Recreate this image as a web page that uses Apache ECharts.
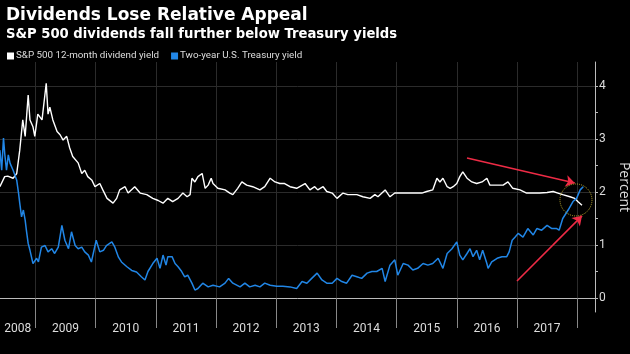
<!DOCTYPE html>
<html>
<head>
<meta charset="utf-8">
<script src="https://cdn.jsdelivr.net/npm/echarts@6/dist/echarts.min.js"></script>
<style>
  html, body { margin: 0; padding: 0; background: #000; }
  #chart { width: 630px; height: 354px; }
</style>
</head>
<body>
<div id="chart"></div>
<script>
// S&P 500 12-month dividend yield (decimal year, percent)
const divYears = [2008.41, 2008.49, 2008.54, 2008.63, 2008.69, 2008.74, 2008.79, 2008.83, 2008.88, 2008.91,
  2008.96, 2008.99, 2009.04, 2009.11, 2009.18, 2009.21, 2009.24, 2009.29, 2009.36, 2009.41,
  2009.46, 2009.52, 2009.57, 2009.62, 2009.71, 2009.77, 2009.82, 2009.87, 2009.94, 2009.99,
  2010.07, 2010.12, 2010.19, 2010.29, 2010.35, 2010.40, 2010.49, 2010.54, 2010.65, 2010.74,
  2010.85, 2010.95, 2011.04, 2011.12, 2011.20, 2011.28, 2011.37, 2011.45, 2011.52, 2011.57,
  2011.60, 2011.65, 2011.70, 2011.77, 2011.82, 2011.87, 2011.92, 2011.95, 2012.03, 2012.15,
  2012.23, 2012.28, 2012.36, 2012.43, 2012.51, 2012.61, 2012.73, 2012.81, 2012.90, 2012.98,
  2013.06, 2013.14, 2013.23, 2013.34, 2013.48, 2013.56, 2013.64, 2013.69, 2013.78, 2013.84,
  2013.93, 2014.01, 2014.11, 2014.19, 2014.34, 2014.44, 2014.56, 2014.64, 2014.69, 2014.81,
  2014.89, 2014.97, 2015.09, 2015.19, 2015.30, 2015.42, 2015.50, 2015.60, 2015.67, 2015.72,
  2015.77, 2015.84, 2015.89, 2015.94, 2016.00, 2016.05, 2016.10, 2016.17, 2016.25, 2016.33,
  2016.42, 2016.50, 2016.55, 2016.67, 2016.77, 2016.85, 2016.93, 2017.05, 2017.16, 2017.26,
  2017.38, 2017.50, 2017.60, 2017.68, 2017.76, 2017.88, 2017.96, 2018.01, 2018.08];
const divYield = [2.10, 2.29, 2.30, 2.26, 2.35, 2.79, 3.36, 3.05, 3.83, 3.36,
  3.23, 3.05, 3.47, 3.36, 4.05, 3.47, 3.60, 3.36, 3.14, 3.08,
  2.98, 3.05, 2.83, 2.67, 2.55, 2.35, 2.41, 2.29, 2.22, 2.10,
  2.16, 2.04, 1.88, 1.79, 1.88, 2.04, 2.10, 1.98, 2.10, 1.98,
  1.95, 1.88, 1.84, 1.79, 1.88, 1.82, 1.88, 1.98, 1.91, 1.95,
  2.26, 2.19, 2.29, 2.35, 2.07, 2.13, 2.26, 2.16, 2.07, 2.04,
  1.98, 1.95, 2.07, 2.19, 2.13, 2.10, 2.04, 2.10, 2.26, 2.19,
  2.16, 2.16, 2.10, 2.07, 2.16, 2.04, 2.10, 2.04, 2.10, 2.01,
  1.98, 1.88, 1.98, 1.95, 1.95, 1.91, 1.88, 1.95, 1.91, 2.04,
  1.91, 1.98, 1.98, 1.98, 1.98, 1.98, 2.01, 2.04, 2.26, 2.19,
  2.26, 2.10, 2.07, 2.10, 2.16, 2.29, 2.38, 2.26, 2.19, 2.16,
  2.19, 2.26, 2.13, 2.13, 2.13, 2.19, 2.07, 2.04, 1.98, 1.98,
  1.98, 1.99, 2.01, 1.98, 1.95, 1.91, 1.88, 1.82, 1.75];

// Two-year U.S. Treasury yield (decimal year, percent)
const tsyYears = [2008.41, 2008.44, 2008.47, 2008.49, 2008.52, 2008.55, 2008.58, 2008.63, 2008.69, 2008.72,
  2008.74, 2008.77, 2008.80, 2008.83, 2008.85, 2008.88, 2008.91, 2008.96, 2009.02, 2009.05,
  2009.10, 2009.16, 2009.21, 2009.27, 2009.32, 2009.38, 2009.44, 2009.49, 2009.55, 2009.60,
  2009.66, 2009.71, 2009.77, 2009.82, 2009.88, 2009.93, 2010.01, 2010.07, 2010.13, 2010.18,
  2010.27, 2010.32, 2010.38, 2010.43, 2010.52, 2010.60, 2010.68, 2010.76, 2010.82, 2010.87,
  2010.95, 2011.02, 2011.07, 2011.12, 2011.17, 2011.20, 2011.27, 2011.32, 2011.37, 2011.43,
  2011.48, 2011.53, 2011.60, 2011.65, 2011.70, 2011.78, 2011.87, 2011.95, 2012.06, 2012.15,
  2012.21, 2012.28, 2012.40, 2012.48, 2012.56, 2012.65, 2012.73, 2012.81, 2012.90, 2013.01,
  2013.11, 2013.23, 2013.34, 2013.43, 2013.51, 2013.59, 2013.68, 2013.76, 2013.84, 2013.93,
  2014.01, 2014.09, 2014.17, 2014.26, 2014.34, 2014.42, 2014.51, 2014.59, 2014.67, 2014.76,
  2014.81, 2014.89, 2014.97, 2015.02, 2015.11, 2015.19, 2015.27, 2015.35, 2015.44, 2015.52,
  2015.60, 2015.69, 2015.77, 2015.84, 2015.92, 2016.00, 2016.05, 2016.10, 2016.17, 2016.22,
  2016.27, 2016.33, 2016.38, 2016.43, 2016.50, 2016.52, 2016.58, 2016.67, 2016.75, 2016.83,
  2016.87, 2016.92, 2016.97, 2017.02, 2017.10, 2017.18, 2017.27, 2017.33, 2017.41, 2017.50,
  2017.58, 2017.66, 2017.70, 2017.76, 2017.85, 2017.93, 2017.99, 2018.05, 2018.10];
const tsyYield = [2.79, 2.41, 3.02, 2.73, 2.41, 2.70, 2.54, 2.41, 2.22, 1.98,
  1.79, 1.53, 1.66, 1.47, 1.28, 1.03, 0.90, 0.65, 0.75, 0.68,
  0.96, 0.99, 0.87, 0.93, 0.84, 0.96, 1.37, 1.09, 0.93, 1.25,
  0.99, 0.93, 0.96, 0.87, 0.81, 0.68, 1.09, 0.87, 0.90, 0.99,
  1.06, 0.96, 0.77, 0.68, 0.59, 0.52, 0.49, 0.40, 0.34, 0.50,
  0.65, 0.75, 0.56, 0.81, 0.62, 0.78, 0.78, 0.65, 0.59, 0.50,
  0.40, 0.43, 0.28, 0.15, 0.18, 0.28, 0.21, 0.24, 0.21, 0.28,
  0.37, 0.28, 0.21, 0.28, 0.21, 0.24, 0.21, 0.28, 0.24, 0.22,
  0.22, 0.21, 0.18, 0.31, 0.28, 0.37, 0.47, 0.34, 0.28, 0.28,
  0.37, 0.31, 0.28, 0.43, 0.40, 0.37, 0.47, 0.50, 0.50, 0.56,
  0.31, 0.62, 0.72, 0.43, 0.65, 0.62, 0.53, 0.56, 0.65, 0.62,
  0.65, 0.75, 0.56, 0.84, 0.93, 1.06, 0.81, 0.72, 0.84, 0.93,
  0.78, 0.90, 0.72, 0.90, 0.65, 0.56, 0.68, 0.75, 0.78, 0.78,
  0.87, 1.09, 1.15, 1.22, 1.15, 1.31, 1.19, 1.31, 1.28, 1.37,
  1.31, 1.31, 1.28, 1.50, 1.66, 1.82, 1.88, 2.04, 2.10];

const yearBreaks = [2009, 2010, 2011, 2012, 2013, 2014, 2015, 2016, 2017, 2018];
const yearLabelPos = [2008.705, 2009.5, 2010.5, 2011.5, 2012.5, 2013.5, 2014.5, 2015.5, 2016.5, 2017.5];
const pctTicks = [0, 1, 2, 3, 4];
const pctHalfTicks = [0.5, 1.5, 2.5, 3.5];

// annotation: two red arrows and a dotted circle (in data units)
const arrowDown = [[2016.17, 2.64], [2017.96, 2.17]];
const arrowUp = [[2017.0, 0.32], [2018.08, 1.55]];
const circleAt = [2017.98, 1.85];

const xMin = 2008.412, xMax = 2018.296;
const yMin = -0.264, yMax = 4.453;
const WHITE = "#ffffff";
const BLUE = "#2186e6";
const RED = "#ee2b45";
const TITLE_FONT = "'DejaVu Sans', 'Open Sans', sans-serif";
const FONT = "'Open Sans', 'DejaVu Sans', sans-serif";
const NARROW_FONT = "'Liberation Sans Narrow', Roboto, sans-serif";

const chart = echarts.init(document.getElementById("chart"), null, { renderer: "canvas" });

const zip = (xs, ys) => xs.map((x, i) => [x, ys[i]]);

chart.setOption({
  backgroundColor: "#000",
  animation: false,
  title: {
    text: "Dividends Lose Relative Appeal",
    subtext: "S&P 500 dividends fall further below Treasury yields",
    left: 1,
    top: 2,
    itemGap: 4,
    textStyle: { color: "#fff", fontSize: 17, fontWeight: "bold", fontFamily: TITLE_FONT },
    subtextStyle: { color: "#fff", fontSize: 13.2, fontWeight: "bold", fontFamily: TITLE_FONT },
  },
  legend: {
    left: 2,
    top: 46,
    icon: "rect",
    itemWidth: 7,
    itemHeight: 7,
    itemGap: 12,
    textStyle: { color: "#ddd", fontSize: 9.8, fontFamily: NARROW_FONT, padding: [0, 0, 0, -3] },
    data: ["S&P 500 12-month dividend yield", "Two-year U.S. Treasury yield"],
  },
  grid: { left: 0, right: 35, top: 62, bottom: 42, containLabel: false, outerBoundsMode: "none" },
  xAxis: {
    type: "value",
    min: xMin,
    max: xMax,
    axisLine: { show: true, lineStyle: { color: "#bbb" } },
    axisTick: { show: true, customValues: yearBreaks, length: 30, lineStyle: { color: "#888" } },
    axisLabel: {
      customValues: yearLabelPos,
      formatter: (v) => String(Math.floor(v)),
      color: "#ddd",
      fontSize: 12,
      margin: 11,
      fontFamily: NARROW_FONT,
    },
    splitLine: { show: true, lineStyle: { color: "#2b2b2b" } },
  },
  yAxis: [
    {
      type: "value",
      position: "right",
      min: yMin,
      max: yMax,
      axisLine: { show: true, lineStyle: { color: "#bbb" } },
      axisTick: { show: true, customValues: pctTicks, length: 3, lineStyle: { color: "#bbb" } },
      axisLabel: { customValues: pctTicks, color: "#ddd", fontSize: 12, margin: 4, fontFamily: NARROW_FONT },
      splitLine: { show: true, lineStyle: { color: "#2b2b2b" } },
      name: "Percent",
      nameLocation: "middle",
      nameRotate: -90,
      nameGap: 19,
      nameTextStyle: { color: "#ddd", fontSize: 14, fontFamily: FONT },
    },
    {
      type: "value",
      position: "right",
      min: yMin,
      max: yMax,
      axisLine: { show: false },
      axisTick: { show: true, customValues: pctHalfTicks, length: 3, lineStyle: { color: "#bbb" } },
      axisLabel: { show: false },
      splitLine: { show: false },
    },
  ],
  series: [
    {
      name: "S&P 500 12-month dividend yield",
      type: "line",
      data: zip(divYears, divYield),
      showSymbol: false,
      color: WHITE,
      lineStyle: { width: 1.4, color: WHITE },
      markLine: {
        silent: true,
        symbol: ["none", "arrow"],
        symbolSize: 9,
        label: { show: false },
        lineStyle: { color: RED, width: 1.6, type: "solid" },
        data: [
          [{ coord: arrowDown[0] }, { coord: arrowDown[1] }],
          [{ coord: arrowUp[0] }, { coord: arrowUp[1] }],
        ],
      },
    },
    {
      name: "Two-year U.S. Treasury yield",
      type: "line",
      data: zip(tsyYears, tsyYield),
      showSymbol: false,
      color: BLUE,
      lineStyle: { width: 1.5, color: BLUE },
      markPoint: {
        silent: true,
        symbol: "circle",
        symbolSize: 32,
        label: { show: false },
        itemStyle: { color: "transparent", borderColor: "#b9a92c", borderWidth: 1, borderType: "dotted" },
        data: [{ coord: circleAt }],
      },
    },
  ],
});
</script>
</body>
</html>
